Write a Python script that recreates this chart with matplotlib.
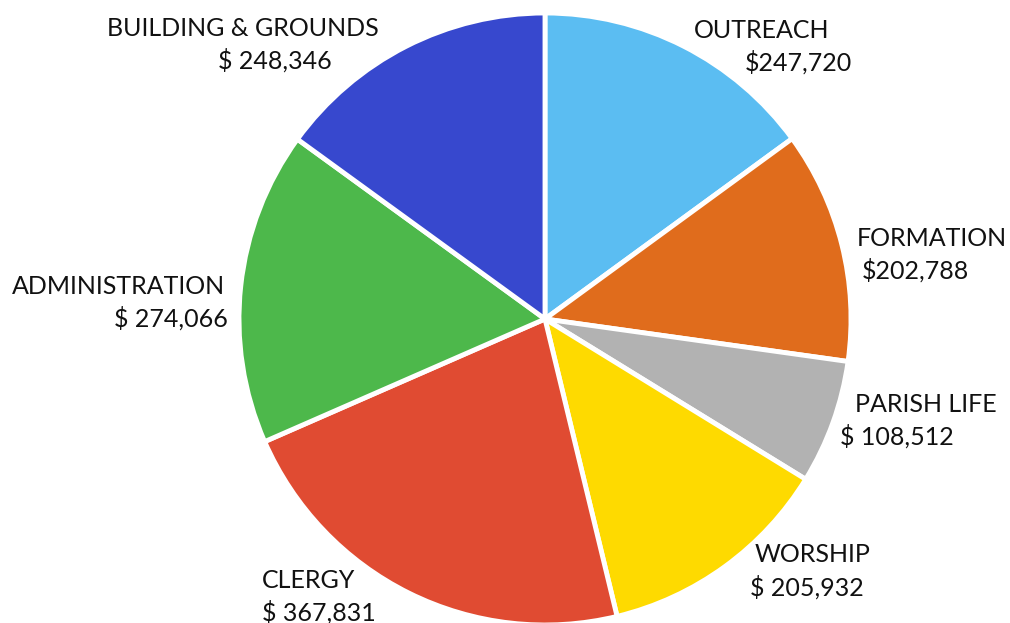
import matplotlib
matplotlib.use("Agg")
import matplotlib.pyplot as plt

categories = ["OUTREACH", "FORMATION", "PARISH LIFE", "WORSHIP", "CLERGY",
              "ADMINISTRATION", "BUILDING & GROUNDS"]
values = [247720, 202788, 108512, 205932, 367831, 274066, 248346]
value_labels = ["$247,720", "$202,788", "$ 108,512", "$ 205,932", "$ 367,831",
                "$ 274,066", "$ 248,346"]
colors = ["#5BBDF2", "#E06C1C", "#B2B2B2", "#FEDA00", "#E04B32", "#4DB84B", "#3748CE"]

# label positions in pixels (left x, center y) for name line and value line
name_pos = [(694, 30), (857, 238), (855, 404), (755, 555), (262, 580), (12, 286), (107, 28)]
value_pos = [(745, 62), (862, 270), (840, 436), (750, 587), (262, 612), (114, 318), (218, 60)]

W, H = 1010, 623
fig = plt.figure(figsize=(W / 100, H / 100), dpi=100)
cx, cy, r = 545, 319, 306
ax = fig.add_axes([(cx - r) / W, (H - cy - r) / H, 2 * r / W, 2 * r / H])
ax.pie(values, colors=colors, startangle=90, counterclock=False,
       wedgeprops=dict(edgecolor="white", linewidth=3.5))
ax.set_xlim(-1, 1)
ax.set_ylim(-1, 1)
ax.set_aspect("equal")
ax.axis("off")

font = ["Lato", "DejaVu Sans"]
for name, val, (nx, ny), (vx, vy) in zip(categories, value_labels, name_pos, value_pos):
    fig.text(nx / W, 1 - ny / H, name, ha="left", va="center", fontsize=18,
             family=font, color="#111111")
    fig.text(vx / W, 1 - vy / H, val, ha="left", va="center", fontsize=18,
             family=font, color="#111111")

fig.savefig("out.png", dpi=100)
